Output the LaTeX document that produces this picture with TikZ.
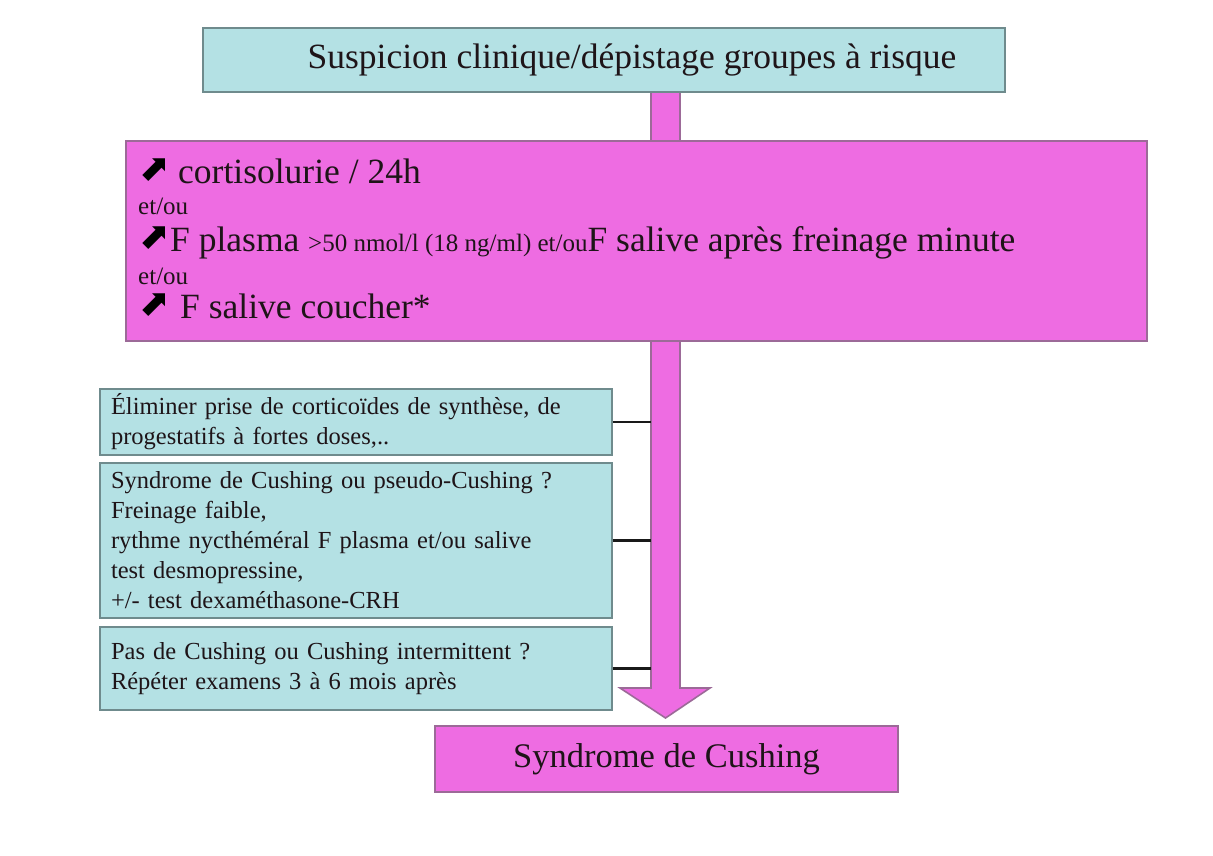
\documentclass[tikz,border=0pt]{standalone}
\usepackage{fontspec}
\setmainfont{Liberation Serif}
\newfontfamily\notefont[WordSpace=0.6]{Liberation Serif}
\newfontfamily\symfont{DejaVu Sans}
\definecolor{cy}{HTML}{B4E1E4}
\definecolor{pk}{HTML}{EE6CE2}
\definecolor{cyb}{HTML}{6F8B8D}
\definecolor{pkb}{HTML}{9C6A98}
\definecolor{tx}{HTML}{1E1418}
\begin{document}
\begin{tikzpicture}[x=1pt,y=-1pt,
  cybox/.style={draw=cyb, fill=cy, line width=1.6pt, inner sep=0pt},
  pkbox/.style={draw=pkb, fill=pk, line width=1.6pt, inner sep=0pt},
  big/.style={font=\fontsize{35.5}{38}\selectfont, text=tx},
  small/.style={font=\fontsize{25}{27}\selectfont, text=tx},
  note/.style={font=\notefont\fontsize{24.5}{30}\selectfont, text=tx, align=left},
  link/.style={draw=black!90, line width=2.2pt},
  arr/.style={font=\symfont\fontsize{37}{37}\selectfont, text=black, inner sep=0pt, anchor=base west},
  txt/.style={inner sep=0pt, anchor=base west}]
\useasboundingbox (0,0) rectangle (1213,856);
\fill[white] (0,0) rectangle (1213,856);

\coordinate (sL) at (651,341);
\coordinate (sR) at (680,341);
% upper shaft
\draw[pkbox] (651,88) rectangle (680,145);
% main arrow
\draw[pkbox] (651,336) -- (651,688) -- (620,688) -- (665.5,718) -- (710,688) -- (680,688) -- (680,336);

\node[cybox, minimum width=802pt, minimum height=64pt] (top) at (604,60) {};
\node[big, inner sep=0pt] (toplabel) at (632,60) {Suspicion clinique/dépistage groupes à risque};
\node[pkbox, minimum width=1021pt, minimum height=200pt] (main) at (636.5,241) {};

\node[arr] (a1) at (139,180) {⬈};
\node[txt,big] (t1) at (178,183) {cortisolurie / 24h};
\node[txt,small] (o1) at (138,214) {et/ou};
\node[arr] (a2) at (139,248) {⬈};
\node[txt,big] (t2) at (170,251) {F plasma {\fontsize{25}{27}\selectfont >50 nmol/l (18 ng/ml) et/ou}F salive après freinage minute};
\node[txt,small] (o2) at (138,284) {et/ou};
\node[arr] (a3) at (139,315) {⬈};
\node[txt,big] (t3) at (180,318) {F salive coucher*};

\node[cybox, minimum width=512pt, minimum height=66pt, text width=490pt, note] (n1) at (356,422)
  {Éliminer prise de corticoïdes de synthèse, de\\progestatifs à fortes doses,..};
\node[cybox, minimum width=512pt, minimum height=155pt, text width=490pt, note] (n2) at (356,540.5)
  {Syndrome de Cushing ou pseudo-Cushing ?\\Freinage faible,\\rythme nycthéméral F plasma et/ou salive\\test desmopressine,\\+/- test dexaméthasone-CRH};
\node[cybox, minimum width=512pt, minimum height=83pt, text width=490pt, note] (n3) at (356,668.5)
  {Pas de Cushing ou Cushing intermittent ?\\Répéter examens 3 à 6 mois après};

\draw[link] (n1.east) -- (n1.east -| sL);
\draw[link] (n2.east) -- (n2.east -| sL);
\draw[link] (n3.east) -- (n3.east -| sL);

\node[pkbox, minimum width=463pt, minimum height=66pt, font=\fontsize{34.5}{37}\selectfont, text=tx] (end) at (666.5,759) {Syndrome de Cushing};
\end{tikzpicture}
\end{document}
